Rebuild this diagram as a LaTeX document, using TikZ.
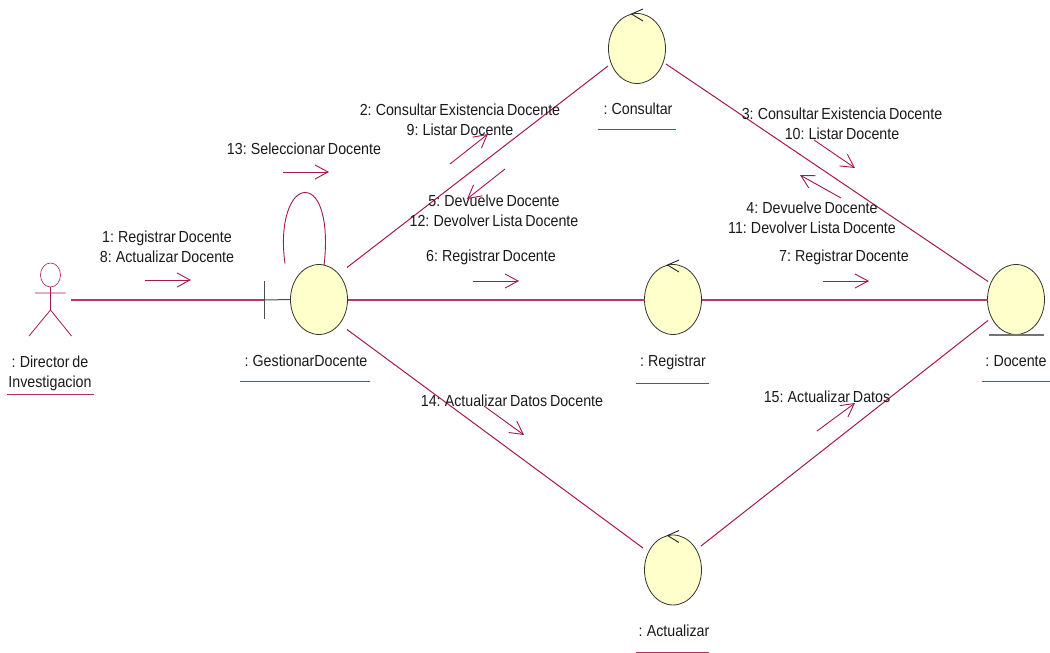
\documentclass[tikz,border=0pt]{standalone}
\usepackage{fontspec}
\setmainfont[FakeStretch=0.89,WordSpace=0.7]{Liberation Sans}
\usetikzlibrary{shapes.geometric,arrows.meta,calc}
\definecolor{rose}{HTML}{A5174F}
\definecolor{robj}{HTML}{FFFFCC}
\definecolor{txt}{HTML}{1A1A1A}
\tikzset{
  x=1pt,y=-1pt,
  obj/.style={ellipse,draw=black!80,fill=robj,line width=0.8pt,minimum width=57pt,minimum height=70pt,inner sep=0pt,outer sep=0pt},
  lbl/.style={font=\fontsize{16}{20}\selectfont,text=txt,align=center,inner sep=0pt},
  assoc/.style={draw=rose,line width=1pt},
  assoch/.style={draw=rose!85,line width=2pt},
  msg/.style={draw=rose,line width=0.9pt,-{Straight Barb[length=13pt,width=14pt,line width=0.9pt]}},
  uline/.style={draw=rose!90,line width=0.9pt},
  ctrl/.style={draw=black!85,line width=0.9pt},
}
\begin{document}
\begin{tikzpicture}
\useasboundingbox (0,0) rectangle (1050,653);
% objects
\node[obj] (g) at (319,299.5) {};
\node[obj] (c) at (637,48.5) {};
\node[obj] (r) at (673,299.5) {};
\node[obj] (d) at (1016,299.5) {};
\node[obj] (a) at (673,570) {};
% actor
\node[ellipse,draw=rose,line width=0.6pt,minimum width=20pt,minimum height=24pt,inner sep=0pt,outer sep=0pt] (head) at (50.5,275) {};
\coordinate (hip) at (50.5,310);
\coordinate (armL) at (35,293);
\coordinate (armR) at (65.5,293);
\coordinate (legL) at (29,336);
\coordinate (legR) at (71.5,336);
\coordinate (actorEnd) at (71,300);
\draw[rose,line width=0.8pt] (head.south) -- (hip) (armL) -- (armR) (legL) -- (hip) -- (legR);
% boundary
\coordinate (bar) at (264,300);
\draw[assoch] (actorEnd) -- (bar);
\draw[draw=black!70,line width=1pt] (bar) -- (g.west);
\draw[draw=black!70,line width=1pt] ($(bar)+(0,-19)$) -- ($(bar)+(0,19)$);
% associations
\draw[assoc] ([shift={(28,-32)}]g.center) -- ([shift={(-29,17.5)}]c.center);
\draw[assoc] ([shift={(29,15.5)}]c.center) -- ([shift={(-28,-18)}]d.center);
\draw[assoch] (g.east) -- (r.west);
\draw[assoch] (r.east) -- (d.west);
\draw[assoc] ([shift={(28,30)}]g.center) -- ([shift={(-30,-22)}]a.center);
\draw[assoc] ([shift={(28,-24)}]a.center) -- ([shift={(-28,21)}]d.center);
\draw[assoc,line width=0.9pt] ([shift={(-34,-36)}]g.center) .. controls ([shift={(-40,-78)}]g.center) and ([shift={(-28,-107)}]g.center) .. ([shift={(-14,-107)}]g.center) .. controls ([shift={(2,-107)}]g.center) and ([shift={(10,-75)}]g.center) .. ([shift={(5,-34)}]g.center);
% control marks
\foreach \n in {c,r,a}{
  \draw[ctrl] ([shift={(6,-39.5)}]\n.center) -- ([shift={(-5.5,-34.5)}]\n.center) -- ([shift={(6,-27.5)}]\n.center);
}
% docente entity bar
\draw[draw=black!55,line width=2pt] ([shift={(-27,35)}]d.center) -- ([shift={(28,35)}]d.center);
% labels
\node[lbl] (l1) at (167,247) {1: Registrar Docente\\8: Actualizar Docente};
\node[lbl] (l13) at (304,149) {13: Seleccionar Docente};
\node[lbl] (l2) at (460,120) {2: Consultar Existencia Docente\\9: Listar Docente};
\node[lbl] (l5) at (494,211) {5: Devuelve Docente\\12: Devolver Lista Docente};
\node[lbl] (l6) at (491,257) {6: Registrar Docente};
\node[lbl] (l7) at (844,257) {7: Registrar Docente};
\node[lbl] (l3) at (842,124) {3: Consultar Existencia Docente\\10: Listar Docente};
\node[lbl] (l4) at (812,218) {4: Devuelve Docente\\11: Devolver Lista Docente};
\node[lbl] (l14) at (512,401) {14: Actualizar Datos Docente};
\node[lbl] (l15) at (827,397) {15: Actualizar Datos};
\node[lbl] (nd) at (50,373) {: Director de\\Investigacion};
\node[lbl] (ng) at (306,361) {: GestionarDocente};
\node[lbl] (nc) at (638,109) {: Consultar};
\node[lbl] (nr) at (673,362) {: Registrar};
\node[lbl] (nn) at (1016,361) {: Docente};
\node[lbl] (na) at (674,631) {: Actualizar};
% underlines
\draw[uline] ([shift={(-43,21)}]nd.center) -- ([shift={(44,21)}]nd.center);
\draw[uline] ([shift={(-66,20)}]ng.center) -- ([shift={(64,20)}]ng.center);
\draw[uline] ([shift={(-40,20)}]nc.center) -- ([shift={(38,20)}]nc.center);
\draw[uline] ([shift={(-37,21)}]nr.center) -- ([shift={(36,21)}]nr.center);
\draw[uline] ([shift={(-34,20)}]nn.center) -- ([shift={(34,20)}]nn.center);
\draw[uline] ([shift={(-38,21)}]na.center) -- ([shift={(35,21)}]na.center);
% message arrows
\draw[msg] ([shift={(-22,33)}]l1.center) -- ([shift={(24,33)}]l1.center);
\draw[msg] ([shift={(-21,23)}]l13.center) -- ([shift={(25,23)}]l13.center);
\draw[msg] ([shift={(-18,24)}]l6.center) -- ([shift={(28,24)}]l6.center);
\draw[msg] ([shift={(-21,24)}]l7.center) -- ([shift={(25,24)}]l7.center);
\draw[msg] ([shift={(-10,44)}]l2.center) -- ([shift={(28,14)}]l2.center);
\draw[msg] ([shift={(11,-42)}]l5.center) -- ([shift={(-27,-12)}]l5.center);
\draw[msg] ([shift={(-28,16)}]l3.center) -- ([shift={(13,44)}]l3.center);
\draw[msg] ([shift={(29,-20)}]l4.center) -- ([shift={(-12,-43)}]l4.center);
\draw[msg] ([shift={(-28,5)}]l14.center) -- ([shift={(12,34)}]l14.center);
\draw[msg] ([shift={(-10,34)}]l15.center) -- ([shift={(28,6)}]l15.center);
\end{tikzpicture}
\end{document}
